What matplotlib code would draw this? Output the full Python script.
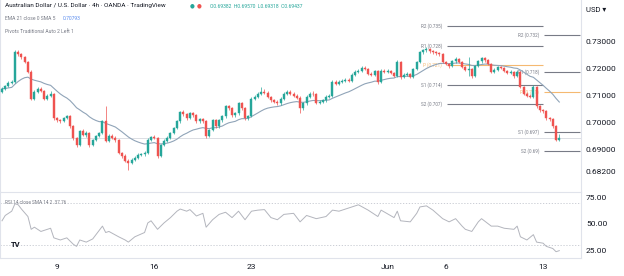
import matplotlib.pyplot as plt
import numpy as np
import pandas as pd

plt.rcParams['font.family'] = ['Roboto', 'DejaVu Sans']

# --------------------------------------------------
# data: AUD/USD 4h candles
# --------------------------------------------------
first_open = 0.7114
closes = [
    0.7125, 0.7136, 0.7147, 0.7150, 0.7259, 0.7252, 0.7241, 0.7223, 0.7187, 0.7089,
    0.7114, 0.7125, 0.7118, 0.7089, 0.7100, 0.7107, 0.7016, 0.7009, 0.7005, 0.7016,
    0.7024, 0.6987, 0.6944, 0.6918, 0.6969, 0.6955, 0.6962, 0.6918, 0.6937, 0.6951,
    0.6962, 0.7005, 0.6933, 0.6951, 0.6944, 0.6937, 0.6889, 0.6879, 0.6861, 0.6853,
    0.6864, 0.6871, 0.6882, 0.6884, 0.6889, 0.6937, 0.6947, 0.6944, 0.6879, 0.6918,
    0.6933, 0.6944, 0.6962, 0.6980, 0.7005, 0.7038, 0.7031, 0.7016, 0.7034, 0.7027,
    0.7005, 0.7013, 0.7005, 0.6951, 0.6973, 0.7009, 0.6987, 0.7009, 0.7024, 0.7060,
    0.7053, 0.7027, 0.7034, 0.7071, 0.7053, 0.7016, 0.7024, 0.7089, 0.7096, 0.7107,
    0.7114, 0.7111, 0.7096, 0.7082, 0.7078, 0.7071, 0.7089, 0.7107, 0.7114, 0.7107,
    0.7100, 0.7092, 0.7053, 0.7071, 0.7096, 0.7107, 0.7104, 0.7074, 0.7078, 0.7082,
    0.7096, 0.7100, 0.7150, 0.7143, 0.7150, 0.7154, 0.7158, 0.7154, 0.7176, 0.7187,
    0.7190, 0.7201, 0.7197, 0.7179, 0.7176, 0.7190, 0.7150, 0.7190, 0.7187, 0.7190,
    0.7183, 0.7172, 0.7223, 0.7168, 0.7176, 0.7179, 0.7168, 0.7197, 0.7223, 0.7259,
    0.7266, 0.7270, 0.7263, 0.7259, 0.7255, 0.7252, 0.7223, 0.7216, 0.7208, 0.7226,
    0.7234, 0.7223, 0.7205, 0.7194, 0.7197, 0.7172, 0.7208, 0.7226, 0.7237, 0.7230,
    0.7216, 0.7187, 0.7194, 0.7205, 0.7201, 0.7190, 0.7183, 0.7187, 0.7172, 0.7187,
    0.7132, 0.7107, 0.7100, 0.7096, 0.7132, 0.7060, 0.7045, 0.7042, 0.7016, 0.7013,
    0.6987, 0.6938, 0.6944,
]
highs = [
    0.7130, 0.7140, 0.7152, 0.7156, 0.7266, 0.7268, 0.7258, 0.7246, 0.7228, 0.7192,
    0.7120, 0.7131, 0.7130, 0.7122, 0.7106, 0.7118, 0.7111, 0.7022, 0.7015, 0.7021,
    0.7030, 0.7028, 0.6991, 0.6949, 0.6975, 0.6976, 0.6970, 0.6966, 0.6941, 0.6956,
    0.6967, 0.7010, 0.7060, 0.6957, 0.6958, 0.6950, 0.6941, 0.6894, 0.6884, 0.6866,
    0.6869, 0.6876, 0.6887, 0.6888, 0.6895, 0.6943, 0.6953, 0.6954, 0.6949, 0.6923,
    0.6939, 0.6950, 0.6967, 0.6985, 0.7010, 0.7044, 0.7045, 0.7036, 0.7040, 0.7040,
    0.7031, 0.7019, 0.7018, 0.7009, 0.6978, 0.7014, 0.7013, 0.7014, 0.7029, 0.7066,
    0.7066, 0.7057, 0.7040, 0.7077, 0.7076, 0.7057, 0.7030, 0.7094, 0.7102, 0.7113,
    0.7132, 0.7125, 0.7116, 0.7100, 0.7088, 0.7083, 0.7094, 0.7112, 0.7121, 0.7119,
    0.7112, 0.7105, 0.7097, 0.7076, 0.7101, 0.7113, 0.7115, 0.7109, 0.7084, 0.7088,
    0.7101, 0.7106, 0.7156, 0.7156, 0.7156, 0.7160, 0.7164, 0.7164, 0.7181, 0.7193,
    0.7196, 0.7207, 0.7208, 0.7202, 0.7185, 0.7195, 0.7194, 0.7196, 0.7196, 0.7196,
    0.7195, 0.7188, 0.7229, 0.7227, 0.7182, 0.7185, 0.7183, 0.7202, 0.7228, 0.7264,
    0.7272, 0.7277, 0.7275, 0.7268, 0.7264, 0.7260, 0.7256, 0.7228, 0.7220, 0.7231,
    0.7240, 0.7238, 0.7227, 0.7209, 0.7243, 0.7201, 0.7213, 0.7231, 0.7243, 0.7242,
    0.7234, 0.7220, 0.7200, 0.7210, 0.7210, 0.7206, 0.7195, 0.7192, 0.7191, 0.7192,
    0.7191, 0.7136, 0.7112, 0.7106, 0.7137, 0.7136, 0.7066, 0.7051, 0.7047, 0.7022,
    0.7018, 0.6991, 0.6957,
]
lows = [
    0.7110, 0.7120, 0.7132, 0.7143, 0.7146, 0.7246, 0.7236, 0.7218, 0.7182, 0.7082,
    0.7085, 0.7110, 0.7112, 0.7084, 0.7085, 0.7096, 0.7010, 0.7003, 0.6999, 0.7001,
    0.7012, 0.6982, 0.6938, 0.6911, 0.6913, 0.6950, 0.6948, 0.6912, 0.6913, 0.6932,
    0.6946, 0.6958, 0.6928, 0.6928, 0.6939, 0.6930, 0.6884, 0.6872, 0.6855, 0.6828,
    0.6847, 0.6859, 0.6866, 0.6876, 0.6879, 0.6885, 0.6932, 0.6939, 0.6872, 0.6874,
    0.6913, 0.6928, 0.6939, 0.6957, 0.6976, 0.7000, 0.7025, 0.7010, 0.7012, 0.7022,
    0.7000, 0.7000, 0.6999, 0.6945, 0.6946, 0.6968, 0.6981, 0.6982, 0.7004, 0.7019,
    0.7047, 0.7021, 0.7022, 0.7029, 0.7047, 0.7010, 0.7011, 0.7020, 0.7084, 0.7091,
    0.7102, 0.7106, 0.7091, 0.7077, 0.7073, 0.7066, 0.7067, 0.7084, 0.7102, 0.7102,
    0.7095, 0.7087, 0.7034, 0.7048, 0.7066, 0.7091, 0.7099, 0.7068, 0.7069, 0.7073,
    0.7077, 0.7091, 0.7096, 0.7138, 0.7138, 0.7145, 0.7149, 0.7149, 0.7149, 0.7171,
    0.7182, 0.7185, 0.7192, 0.7174, 0.7170, 0.7171, 0.7144, 0.7146, 0.7182, 0.7182,
    0.7178, 0.7167, 0.7168, 0.7162, 0.7163, 0.7171, 0.7163, 0.7163, 0.7192, 0.7218,
    0.7254, 0.7261, 0.7258, 0.7254, 0.7250, 0.7246, 0.7218, 0.7211, 0.7202, 0.7203,
    0.7221, 0.7218, 0.7200, 0.7189, 0.7170, 0.7166, 0.7167, 0.7203, 0.7221, 0.7225,
    0.7211, 0.7182, 0.7182, 0.7189, 0.7196, 0.7185, 0.7178, 0.7178, 0.7166, 0.7167,
    0.7126, 0.7101, 0.7094, 0.7090, 0.7091, 0.7054, 0.7039, 0.7036, 0.7010, 0.7008,
    0.6981, 0.6932, 0.6932,
]

# RSI 14, by candle index
rsi_idx = [0, 1, 3, 4, 5, 6, 8, 9, 10, 12, 14, 15, 16, 18, 20, 22, 23, 24, 26, 28,
           31, 32, 33, 36, 38, 39, 41, 44, 45, 46, 48, 50, 52, 54, 55, 57, 58, 60, 62, 63,
           65, 67, 69, 71, 73, 75, 77, 79, 81, 83, 85, 87, 90, 92, 94, 97, 100, 102, 104, 107,
           110, 113, 116, 117, 121, 122, 123, 126, 128, 129, 131, 133, 136, 138, 140, 142, 143, 145, 147, 148,
           151, 153, 155, 158, 159, 160, 162, 164, 165, 167, 168, 170, 171, 172]
rsi_val = [53, 58, 62, 69, 68, 64, 57, 45, 47, 43, 45, 46, 37, 35, 37, 31, 29, 35, 33, 36,
           48, 42, 43, 38, 35, 33, 38, 42, 51, 53, 45, 51, 56, 62, 64, 62, 63.5, 57.5, 60, 47,
           54, 59, 61, 56, 62, 54, 62, 63, 63.5, 56, 54, 59, 60, 52, 58, 55, 57, 63, 62, 65,
           68, 63, 57, 63, 56, 62, 53, 52, 60, 66, 67, 63, 55, 52, 55, 48, 45, 43, 52, 55,
           48, 48, 46, 45, 48, 38, 35, 40, 33, 32, 29, 27, 24, 25]

# x axis (candle index of each date label)
tick_pos = [17, 47, 77, 119, 137, 167]
tick_labels = ['9', '16', '23', 'Jun', '6', '13']

price_ticks = [0.73, 0.72, 0.71, 0.70, 0.69, 0.682]
rsi_ticks = [75, 50, 25]

# weekly traditional pivots (two periods)
piv_names = ['R2', 'R1', 'P', 'S1', 'S2']
piv1_vals = [0.7355, 0.7283, 0.7213, 0.7138, 0.7069]
piv1_text = ['0.735', '0.728', '0.721', '0.714', '0.707']
piv2_vals = [0.7322, 0.7187, 0.7113, 0.6967, 0.6897]
piv2_text = ['0.732', '0.718', '0.711', '0.697', '0.69']
period_bounds = [137, 167, 178.4]

# --------------------------------------------------
# figure layout (pixel based)
# --------------------------------------------------
W, H = 624, 276
fig = plt.figure(figsize=(W / 100, H / 100), dpi=100)


def rect(x0, y0, x1, y1):
    return [x0 / W, 1 - y1 / H, (x1 - x0) / W, (y1 - y0) / H]


ax = fig.add_axes(rect(0, 0, 581, 192))
ax_r = fig.add_axes(rect(0, 192, 581, 258), sharex=ax)

GREEN, RED = '#26a69a', '#ef5350'
GRID = '#e0e3eb'
TXT = '#131722'

# ---- candles ----
c = np.array(closes)
o = np.array([first_open] + closes[:-1])
idx = np.arange(len(c))
cols = np.where(c >= o, GREEN, RED)
ax.vlines(idx, lows, highs, colors=cols, lw=0.5, zorder=4)
ax.bar(idx, c - o, bottom=o, width=0.62, color=cols, edgecolor=cols, lw=0.3, zorder=5)

# EMA 21
ema = pd.Series(c).ewm(span=21, adjust=False).mean()
ax.plot(idx, ema, color='#90a4b8', lw=0.8, zorder=3)

# last price line
ax.axhline(c[-1], color='#d6d8de', lw=0.6, zorder=1)

# ---- pivots ----
for p, (vals, texts) in enumerate([(piv1_vals, piv1_text), (piv2_vals, piv2_text)]):
    x0, x1 = period_bounds[p], period_bounds[p + 1]
    for name, v, t in zip(piv_names, vals, texts):
        col = '#f5b971' if name == 'P' else '#787b86'
        ax.hlines(v, x0 + 0.4, x1, color=col, lw=0.8, zorder=2)
        ax.text(x0 - 1.2, v, f'{name} ({t})', ha='right', va='center',
                fontsize=3.3, color=col, zorder=2)

ax.set_xlim(-0.62, 178.7)
ax.set_ylim(0.67455, 0.7451)
ax.yaxis.tick_right()
ax.set_yticks(price_ticks)
ax.set_yticklabels([f'{v:.5f}' for v in price_ticks])
ax.tick_params(axis='y', length=0, pad=3.6, labelsize=6, labelcolor=TXT)
ax.tick_params(axis='x', bottom=False, labelbottom=False)
for s in ['top', 'bottom']:
    ax.spines[s].set_visible(False)
for s in ['left', 'right']:
    ax.spines[s].set_color(GRID)
    ax.spines[s].set_linewidth(0.8)

# ---- RSI pane ----
ax_r.plot(rsi_idx, rsi_val, color='#b3b5bd', lw=0.7, zorder=3)
for lvl in [70, 30]:
    ax_r.axhline(lvl, color='#c3c6ce', lw=0.6, ls=(0, (1.5, 2)), zorder=1)
ax_r.set_ylim(18.1, 80.0)
ax_r.yaxis.tick_right()
ax_r.set_yticks(rsi_ticks)
ax_r.set_yticklabels([f'{v:.2f}' for v in rsi_ticks])
ax_r.tick_params(axis='y', length=0, pad=3.6, labelsize=6, labelcolor=TXT)
ax_r.set_xticks(tick_pos)
ax_r.set_xticklabels(tick_labels)
ax_r.tick_params(axis='x', length=0, pad=4, labelsize=6, labelcolor=TXT)
for s in ax_r.spines.values():
    s.set_color(GRID)
    s.set_linewidth(0.8)
ax_r.text(0.009, 0.84, 'RSI 14 close SMA 14 2  37.76', transform=ax_r.transAxes,
          fontsize=3.4, color='#787b86', va='center')
ax_r.text(0.018, 0.2, 'TV', transform=ax_r.transAxes, fontsize=5.5,
          fontweight='bold', color=TXT, va='center')

# ---- header texts ----
def ftext(x, y, s, **kw):
    fig.text(x / W, 1 - y / H, s, va='center', **kw)


ftext(5, 6, 'Australian Dollar / U.S. Dollar · 4h · OANDA · TradingView',
      fontsize=4.6, color=TXT)
ftext(190, 6, '●', fontsize=4, color=GREEN)
ftext(197, 6, '●', fontsize=4, color=RED)
ftext(210, 6, 'O0.69382  H0.69570  L0.69318  C0.69437', fontsize=3.6, color=GREEN)
ftext(5, 18.5, 'EMA 21 close 0 SMA 5', fontsize=3.6, color='#787b86')
ftext(63, 18.5, '0.70793', fontsize=3.6, color='#5b8def')
ftext(5, 31, 'Pivots Traditional Auto 2 Left 1', fontsize=3.6, color='#787b86')
ftext(586, 10, 'USD ▾', fontsize=5.5, color=TXT)

plt.savefig('out.png', dpi=100)
